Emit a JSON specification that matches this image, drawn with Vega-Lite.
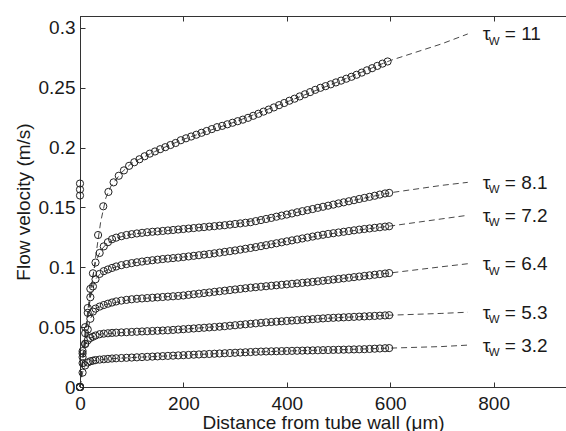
{
  "$schema": "https://vega.github.io/schema/vega-lite/v6.json",
  "width": 486,
  "height": 371,
  "autosize": {"type": "none"},
  "padding": {"left": 80, "top": 16, "right": 0, "bottom": 44},
  "config": {
    "view": {"stroke": "#333", "strokeWidth": 1},
    "font": "Liberation Sans",
    "axis": {
      "grid": false,
      "domainColor": "#333",
      "tickColor": "#333",
      "labelColor": "#1a1a1a",
      "titleColor": "#1a1a1a",
      "labelFont": "Liberation Sans",
      "titleFont": "Liberation Sans",
      "labelFontSize": 19,
      "titleFontSize": 19,
      "titleFontWeight": "normal",
      "tickSize": -5,
      "domainWidth": 1,
      "tickWidth": 1,
      "labelFlush": false
    }
  },
  "datasets": {
    "fit": [
      {"s":"11","x":0,"v":0},{"s":"11","x":10,"v":0.04},{"s":"11","x":20,"v":0.075},{"s":"11","x":30,"v":0.108},{"s":"11","x":40,"v":0.138},{"s":"11","x":50,"v":0.158},{"s":"11","x":60,"v":0.168},{"s":"11","x":80,"v":0.179},{"s":"11","x":100,"v":0.1872},{"s":"11","x":150,"v":0.1978},{"s":"11","x":200,"v":0.207},{"s":"11","x":300,"v":0.2215},{"s":"11","x":400,"v":0.2382},{"s":"11","x":500,"v":0.2552},{"s":"11","x":600,"v":0.2728},{"s":"11","x":700,"v":0.2868},{"s":"11","x":750,"v":0.295},
      {"s":"8.1","x":0,"v":0},{"s":"8.1","x":10,"v":0.045},{"s":"8.1","x":20,"v":0.082},{"s":"8.1","x":30,"v":0.104},{"s":"8.1","x":40,"v":0.114},{"s":"8.1","x":50,"v":0.119},{"s":"8.1","x":70,"v":0.1245},{"s":"8.1","x":100,"v":0.1277},{"s":"8.1","x":150,"v":0.13},{"s":"8.1","x":200,"v":0.132},{"s":"8.1","x":300,"v":0.1362},{"s":"8.1","x":400,"v":0.1441},{"s":"8.1","x":500,"v":0.1534},{"s":"8.1","x":600,"v":0.1623},{"s":"8.1","x":700,"v":0.1685},{"s":"8.1","x":750,"v":0.171},
      {"s":"7.2","x":0,"v":0},{"s":"7.2","x":10,"v":0.045},{"s":"7.2","x":20,"v":0.075},{"s":"7.2","x":30,"v":0.09},{"s":"7.2","x":40,"v":0.095},{"s":"7.2","x":60,"v":0.0993},{"s":"7.2","x":100,"v":0.1035},{"s":"7.2","x":150,"v":0.1064},{"s":"7.2","x":200,"v":0.1086},{"s":"7.2","x":300,"v":0.1141},{"s":"7.2","x":400,"v":0.1217},{"s":"7.2","x":500,"v":0.1291},{"s":"7.2","x":600,"v":0.1345},{"s":"7.2","x":700,"v":0.1405},{"s":"7.2","x":750,"v":0.1435},
      {"s":"6.4","x":0,"v":0},{"s":"6.4","x":10,"v":0.036},{"s":"6.4","x":20,"v":0.057},{"s":"6.4","x":30,"v":0.0655},{"s":"6.4","x":50,"v":0.069},{"s":"6.4","x":100,"v":0.0733},{"s":"6.4","x":200,"v":0.0765},{"s":"6.4","x":300,"v":0.0815},{"s":"6.4","x":400,"v":0.0858},{"s":"6.4","x":500,"v":0.0903},{"s":"6.4","x":600,"v":0.0953},{"s":"6.4","x":700,"v":0.1005},{"s":"6.4","x":750,"v":0.103},
      {"s":"5.3","x":0,"v":0},{"s":"5.3","x":5,"v":0.022},{"s":"5.3","x":10,"v":0.036},{"s":"5.3","x":20,"v":0.041},{"s":"5.3","x":40,"v":0.0443},{"s":"5.3","x":100,"v":0.046},{"s":"5.3","x":200,"v":0.0483},{"s":"5.3","x":300,"v":0.0516},{"s":"5.3","x":400,"v":0.0552},{"s":"5.3","x":500,"v":0.058},{"s":"5.3","x":600,"v":0.06},{"s":"5.3","x":700,"v":0.0615},{"s":"5.3","x":750,"v":0.0625},
      {"s":"3.2","x":0,"v":0},{"s":"3.2","x":5,"v":0.012},{"s":"3.2","x":10,"v":0.018},{"s":"3.2","x":20,"v":0.0215},{"s":"3.2","x":50,"v":0.0234},{"s":"3.2","x":100,"v":0.0246},{"s":"3.2","x":200,"v":0.0266},{"s":"3.2","x":300,"v":0.0286},{"s":"3.2","x":400,"v":0.0301},{"s":"3.2","x":500,"v":0.0311},{"s":"3.2","x":600,"v":0.0325},{"s":"3.2","x":700,"v":0.0338},{"s":"3.2","x":750,"v":0.035}
    ],
    "lab": [
      {"t":"= 11","x":750,"v":0.295},
      {"t":"= 8.1","x":750,"v":0.171},
      {"t":"= 7.2","x":750,"v":0.1435},
      {"t":"= 6.4","x":750,"v":0.103},
      {"t":"= 5.3","x":750,"v":0.0625},
      {"t":"= 3.2","x":750,"v":0.035}
    ],
    "pts": [
      {"s":"11","x":0,"v":0.16},{"s":"11","x":0,"v":0.165},{"s":"11","x":0,"v":0.17},
      {"s":"11","x":35,"v":0.127},{"s":"11","x":45,"v":0.151},{"s":"11","x":55,"v":0.163},{"s":"11","x":65,"v":0.171},{"s":"11","x":75,"v":0.1765},{"s":"11","x":85,"v":0.181},{"s":"11","x":95,"v":0.1848},{"s":"11","x":105,"v":0.1878},{"s":"11","x":115,"v":0.1903},{"s":"11","x":125,"v":0.1928},{"s":"11","x":135,"v":0.195},{"s":"11","x":145,"v":0.1968},{"s":"11","x":155,"v":0.1987},{"s":"11","x":165,"v":0.2004},{"s":"11","x":175,"v":0.2022},{"s":"11","x":185,"v":0.2039},{"s":"11","x":195,"v":0.2062},{"s":"11","x":205,"v":0.2078},{"s":"11","x":215,"v":0.2093},{"s":"11","x":225,"v":0.2108},{"s":"11","x":235,"v":0.2124},{"s":"11","x":245,"v":0.2139},{"s":"11","x":255,"v":0.2155},{"s":"11","x":265,"v":0.2171},{"s":"11","x":275,"v":0.2182},{"s":"11","x":285,"v":0.2195},{"s":"11","x":295,"v":0.2208},{"s":"11","x":305,"v":0.2221},{"s":"11","x":315,"v":0.2234},{"s":"11","x":325,"v":0.2249},{"s":"11","x":335,"v":0.2266},{"s":"11","x":345,"v":0.2283},{"s":"11","x":355,"v":0.2301},{"s":"11","x":365,"v":0.2318},{"s":"11","x":375,"v":0.2336},{"s":"11","x":385,"v":0.2355},{"s":"11","x":395,"v":0.2373},{"s":"11","x":405,"v":0.2392},{"s":"11","x":415,"v":0.2409},{"s":"11","x":425,"v":0.2428},{"s":"11","x":435,"v":0.2446},{"s":"11","x":445,"v":0.2464},{"s":"11","x":455,"v":0.2483},{"s":"11","x":465,"v":0.25},{"s":"11","x":475,"v":0.2514},{"s":"11","x":485,"v":0.2529},{"s":"11","x":495,"v":0.2545},{"s":"11","x":505,"v":0.256},{"s":"11","x":515,"v":0.2576},{"s":"11","x":525,"v":0.2592},{"s":"11","x":535,"v":0.2609},{"s":"11","x":545,"v":0.2627},{"s":"11","x":555,"v":0.2646},{"s":"11","x":565,"v":0.2664},{"s":"11","x":575,"v":0.2683},{"s":"11","x":585,"v":0.2702},{"s":"11","x":595,"v":0.272},
      {"s":"8.1","x":0,"v":0},{"s":"8.1","x":5,"v":0.03},{"s":"8.1","x":10,"v":0.05},{"s":"8.1","x":15,"v":0.066},{"s":"8.1","x":20,"v":0.082},{"s":"8.1","x":25,"v":0.095},{"s":"8.1","x":30,"v":0.104},{"s":"8.1","x":38,"v":0.112},{"s":"8.1","x":46,"v":0.1175},{"s":"8.1","x":54,"v":0.121},{"s":"8.1","x":62,"v":0.1235},{"s":"8.1","x":70,"v":0.1248},{"s":"8.1","x":80,"v":0.126},{"s":"8.1","x":90,"v":0.127},{"s":"8.1","x":100,"v":0.1277},{"s":"8.1","x":110,"v":0.1283},{"s":"8.1","x":120,"v":0.1288},{"s":"8.1","x":130,"v":0.1293},{"s":"8.1","x":140,"v":0.1297},{"s":"8.1","x":150,"v":0.13},{"s":"8.1","x":160,"v":0.1304},{"s":"8.1","x":170,"v":0.1308},{"s":"8.1","x":180,"v":0.1312},{"s":"8.1","x":190,"v":0.1316},{"s":"8.1","x":200,"v":0.132},{"s":"8.1","x":210,"v":0.1324},{"s":"8.1","x":220,"v":0.1328},{"s":"8.1","x":230,"v":0.1332},{"s":"8.1","x":240,"v":0.1336},{"s":"8.1","x":250,"v":0.134},{"s":"8.1","x":260,"v":0.1344},{"s":"8.1","x":270,"v":0.1348},{"s":"8.1","x":280,"v":0.1352},{"s":"8.1","x":290,"v":0.1357},{"s":"8.1","x":300,"v":0.1362},{"s":"8.1","x":310,"v":0.1367},{"s":"8.1","x":320,"v":0.1372},{"s":"8.1","x":330,"v":0.1377},{"s":"8.1","x":340,"v":0.1386},{"s":"8.1","x":350,"v":0.1395},{"s":"8.1","x":360,"v":0.1404},{"s":"8.1","x":370,"v":0.1413},{"s":"8.1","x":380,"v":0.1423},{"s":"8.1","x":390,"v":0.1432},{"s":"8.1","x":400,"v":0.1441},{"s":"8.1","x":410,"v":0.145},{"s":"8.1","x":420,"v":0.146},{"s":"8.1","x":430,"v":0.1469},{"s":"8.1","x":440,"v":0.1478},{"s":"8.1","x":450,"v":0.1487},{"s":"8.1","x":460,"v":0.1497},{"s":"8.1","x":470,"v":0.1506},{"s":"8.1","x":480,"v":0.1515},{"s":"8.1","x":490,"v":0.1524},{"s":"8.1","x":500,"v":0.1534},{"s":"8.1","x":510,"v":0.1543},{"s":"8.1","x":520,"v":0.1552},{"s":"8.1","x":530,"v":0.1561},{"s":"8.1","x":540,"v":0.1571},{"s":"8.1","x":550,"v":0.158},{"s":"8.1","x":560,"v":0.1589},{"s":"8.1","x":570,"v":0.1598},{"s":"8.1","x":580,"v":0.1608},{"s":"8.1","x":590,"v":0.1617},{"s":"8.1","x":598,"v":0.1622},
      {"s":"7.2","x":0,"v":0},{"s":"7.2","x":5,"v":0.025},{"s":"7.2","x":10,"v":0.045},{"s":"7.2","x":15,"v":0.062},{"s":"7.2","x":20,"v":0.075},{"s":"7.2","x":25,"v":0.084},{"s":"7.2","x":30,"v":0.09},{"s":"7.2","x":38,"v":0.0945},{"s":"7.2","x":46,"v":0.0968},{"s":"7.2","x":54,"v":0.0982},{"s":"7.2","x":62,"v":0.0995},{"s":"7.2","x":70,"v":0.1007},{"s":"7.2","x":80,"v":0.1018},{"s":"7.2","x":90,"v":0.1027},{"s":"7.2","x":100,"v":0.1035},{"s":"7.2","x":110,"v":0.1042},{"s":"7.2","x":120,"v":0.1048},{"s":"7.2","x":130,"v":0.1054},{"s":"7.2","x":140,"v":0.1059},{"s":"7.2","x":150,"v":0.1064},{"s":"7.2","x":160,"v":0.1069},{"s":"7.2","x":170,"v":0.1073},{"s":"7.2","x":180,"v":0.1077},{"s":"7.2","x":190,"v":0.1081},{"s":"7.2","x":200,"v":0.1086},{"s":"7.2","x":210,"v":0.1091},{"s":"7.2","x":220,"v":0.1096},{"s":"7.2","x":230,"v":0.1101},{"s":"7.2","x":240,"v":0.1106},{"s":"7.2","x":250,"v":0.1111},{"s":"7.2","x":260,"v":0.1117},{"s":"7.2","x":270,"v":0.1123},{"s":"7.2","x":280,"v":0.1129},{"s":"7.2","x":290,"v":0.1135},{"s":"7.2","x":300,"v":0.1141},{"s":"7.2","x":310,"v":0.1148},{"s":"7.2","x":320,"v":0.1155},{"s":"7.2","x":330,"v":0.1162},{"s":"7.2","x":340,"v":0.1169},{"s":"7.2","x":350,"v":0.1177},{"s":"7.2","x":360,"v":0.1185},{"s":"7.2","x":370,"v":0.1193},{"s":"7.2","x":380,"v":0.1201},{"s":"7.2","x":390,"v":0.1209},{"s":"7.2","x":400,"v":0.1217},{"s":"7.2","x":410,"v":0.1225},{"s":"7.2","x":420,"v":0.1233},{"s":"7.2","x":430,"v":0.1241},{"s":"7.2","x":440,"v":0.1249},{"s":"7.2","x":450,"v":0.1257},{"s":"7.2","x":460,"v":0.1265},{"s":"7.2","x":470,"v":0.1272},{"s":"7.2","x":480,"v":0.1279},{"s":"7.2","x":490,"v":0.1285},{"s":"7.2","x":500,"v":0.1291},{"s":"7.2","x":510,"v":0.1297},{"s":"7.2","x":520,"v":0.1303},{"s":"7.2","x":530,"v":0.1309},{"s":"7.2","x":540,"v":0.1315},{"s":"7.2","x":550,"v":0.132},{"s":"7.2","x":560,"v":0.1325},{"s":"7.2","x":570,"v":0.133},{"s":"7.2","x":580,"v":0.1335},{"s":"7.2","x":590,"v":0.134},{"s":"7.2","x":598,"v":0.1343},
      {"s":"6.4","x":0,"v":0},{"s":"6.4","x":5,"v":0.02},{"s":"6.4","x":10,"v":0.036},{"s":"6.4","x":15,"v":0.048},{"s":"6.4","x":20,"v":0.057},{"s":"6.4","x":25,"v":0.063},{"s":"6.4","x":30,"v":0.0655},{"s":"6.4","x":38,"v":0.0672},{"s":"6.4","x":46,"v":0.0685},{"s":"6.4","x":54,"v":0.0696},{"s":"6.4","x":62,"v":0.0706},{"s":"6.4","x":70,"v":0.0715},{"s":"6.4","x":80,"v":0.0722},{"s":"6.4","x":90,"v":0.0728},{"s":"6.4","x":100,"v":0.0733},{"s":"6.4","x":110,"v":0.0737},{"s":"6.4","x":120,"v":0.074},{"s":"6.4","x":130,"v":0.0743},{"s":"6.4","x":140,"v":0.0746},{"s":"6.4","x":150,"v":0.0749},{"s":"6.4","x":160,"v":0.0752},{"s":"6.4","x":170,"v":0.0755},{"s":"6.4","x":180,"v":0.0758},{"s":"6.4","x":190,"v":0.0761},{"s":"6.4","x":200,"v":0.0765},{"s":"6.4","x":210,"v":0.077},{"s":"6.4","x":220,"v":0.0775},{"s":"6.4","x":230,"v":0.078},{"s":"6.4","x":240,"v":0.0785},{"s":"6.4","x":250,"v":0.079},{"s":"6.4","x":260,"v":0.0795},{"s":"6.4","x":270,"v":0.08},{"s":"6.4","x":280,"v":0.0805},{"s":"6.4","x":290,"v":0.081},{"s":"6.4","x":300,"v":0.0815},{"s":"6.4","x":310,"v":0.082},{"s":"6.4","x":320,"v":0.0825},{"s":"6.4","x":330,"v":0.083},{"s":"6.4","x":340,"v":0.0834},{"s":"6.4","x":350,"v":0.0838},{"s":"6.4","x":360,"v":0.0842},{"s":"6.4","x":370,"v":0.0846},{"s":"6.4","x":380,"v":0.085},{"s":"6.4","x":390,"v":0.0854},{"s":"6.4","x":400,"v":0.0858},{"s":"6.4","x":410,"v":0.0862},{"s":"6.4","x":420,"v":0.0866},{"s":"6.4","x":430,"v":0.087},{"s":"6.4","x":440,"v":0.0874},{"s":"6.4","x":450,"v":0.0878},{"s":"6.4","x":460,"v":0.0883},{"s":"6.4","x":470,"v":0.0888},{"s":"6.4","x":480,"v":0.0893},{"s":"6.4","x":490,"v":0.0898},{"s":"6.4","x":500,"v":0.0903},{"s":"6.4","x":510,"v":0.0908},{"s":"6.4","x":520,"v":0.0913},{"s":"6.4","x":530,"v":0.0918},{"s":"6.4","x":540,"v":0.0923},{"s":"6.4","x":550,"v":0.0928},{"s":"6.4","x":560,"v":0.0933},{"s":"6.4","x":570,"v":0.0938},{"s":"6.4","x":580,"v":0.0943},{"s":"6.4","x":590,"v":0.0948},{"s":"6.4","x":598,"v":0.0952},
      {"s":"5.3","x":0,"v":0},{"s":"5.3","x":5,"v":0.028},{"s":"5.3","x":10,"v":0.036},{"s":"5.3","x":15,"v":0.039},{"s":"5.3","x":20,"v":0.041},{"s":"5.3","x":25,"v":0.042},{"s":"5.3","x":30,"v":0.043},{"s":"5.3","x":38,"v":0.0441},{"s":"5.3","x":46,"v":0.0446},{"s":"5.3","x":54,"v":0.0449},{"s":"5.3","x":62,"v":0.0452},{"s":"5.3","x":70,"v":0.0454},{"s":"5.3","x":80,"v":0.0456},{"s":"5.3","x":90,"v":0.0458},{"s":"5.3","x":100,"v":0.046},{"s":"5.3","x":110,"v":0.0462},{"s":"5.3","x":120,"v":0.0464},{"s":"5.3","x":130,"v":0.0466},{"s":"5.3","x":140,"v":0.0468},{"s":"5.3","x":150,"v":0.047},{"s":"5.3","x":160,"v":0.0472},{"s":"5.3","x":170,"v":0.0474},{"s":"5.3","x":180,"v":0.0477},{"s":"5.3","x":190,"v":0.048},{"s":"5.3","x":200,"v":0.0483},{"s":"5.3","x":210,"v":0.0486},{"s":"5.3","x":220,"v":0.0489},{"s":"5.3","x":230,"v":0.0492},{"s":"5.3","x":240,"v":0.0495},{"s":"5.3","x":250,"v":0.0498},{"s":"5.3","x":260,"v":0.0501},{"s":"5.3","x":270,"v":0.0504},{"s":"5.3","x":280,"v":0.0508},{"s":"5.3","x":290,"v":0.0512},{"s":"5.3","x":300,"v":0.0516},{"s":"5.3","x":310,"v":0.052},{"s":"5.3","x":320,"v":0.0524},{"s":"5.3","x":330,"v":0.0528},{"s":"5.3","x":340,"v":0.0532},{"s":"5.3","x":350,"v":0.0536},{"s":"5.3","x":360,"v":0.054},{"s":"5.3","x":370,"v":0.0543},{"s":"5.3","x":380,"v":0.0546},{"s":"5.3","x":390,"v":0.0549},{"s":"5.3","x":400,"v":0.0552},{"s":"5.3","x":410,"v":0.0555},{"s":"5.3","x":420,"v":0.0558},{"s":"5.3","x":430,"v":0.0561},{"s":"5.3","x":440,"v":0.0564},{"s":"5.3","x":450,"v":0.0567},{"s":"5.3","x":460,"v":0.057},{"s":"5.3","x":470,"v":0.0573},{"s":"5.3","x":480,"v":0.0576},{"s":"5.3","x":490,"v":0.0578},{"s":"5.3","x":500,"v":0.058},{"s":"5.3","x":510,"v":0.0582},{"s":"5.3","x":520,"v":0.0584},{"s":"5.3","x":530,"v":0.0586},{"s":"5.3","x":540,"v":0.0588},{"s":"5.3","x":550,"v":0.059},{"s":"5.3","x":560,"v":0.0592},{"s":"5.3","x":570,"v":0.0594},{"s":"5.3","x":580,"v":0.0596},{"s":"5.3","x":590,"v":0.0598},{"s":"5.3","x":598,"v":0.06},
      {"s":"3.2","x":0,"v":0},{"s":"3.2","x":5,"v":0.012},{"s":"3.2","x":10,"v":0.018},{"s":"3.2","x":15,"v":0.0205},{"s":"3.2","x":20,"v":0.0215},{"s":"3.2","x":25,"v":0.022},{"s":"3.2","x":30,"v":0.0225},{"s":"3.2","x":38,"v":0.0229},{"s":"3.2","x":46,"v":0.0232},{"s":"3.2","x":54,"v":0.0235},{"s":"3.2","x":62,"v":0.0238},{"s":"3.2","x":70,"v":0.024},{"s":"3.2","x":80,"v":0.0242},{"s":"3.2","x":90,"v":0.0244},{"s":"3.2","x":100,"v":0.0246},{"s":"3.2","x":110,"v":0.0248},{"s":"3.2","x":120,"v":0.025},{"s":"3.2","x":130,"v":0.0252},{"s":"3.2","x":140,"v":0.0254},{"s":"3.2","x":150,"v":0.0256},{"s":"3.2","x":160,"v":0.0258},{"s":"3.2","x":170,"v":0.026},{"s":"3.2","x":180,"v":0.0262},{"s":"3.2","x":190,"v":0.0264},{"s":"3.2","x":200,"v":0.0266},{"s":"3.2","x":210,"v":0.0268},{"s":"3.2","x":220,"v":0.027},{"s":"3.2","x":230,"v":0.0272},{"s":"3.2","x":240,"v":0.0274},{"s":"3.2","x":250,"v":0.0276},{"s":"3.2","x":260,"v":0.0278},{"s":"3.2","x":270,"v":0.028},{"s":"3.2","x":280,"v":0.0282},{"s":"3.2","x":290,"v":0.0284},{"s":"3.2","x":300,"v":0.0286},{"s":"3.2","x":310,"v":0.0288},{"s":"3.2","x":320,"v":0.029},{"s":"3.2","x":330,"v":0.0292},{"s":"3.2","x":340,"v":0.0294},{"s":"3.2","x":350,"v":0.0296},{"s":"3.2","x":360,"v":0.0297},{"s":"3.2","x":370,"v":0.0298},{"s":"3.2","x":380,"v":0.0299},{"s":"3.2","x":390,"v":0.03},{"s":"3.2","x":400,"v":0.0301},{"s":"3.2","x":410,"v":0.0302},{"s":"3.2","x":420,"v":0.0303},{"s":"3.2","x":430,"v":0.0304},{"s":"3.2","x":440,"v":0.0305},{"s":"3.2","x":450,"v":0.0306},{"s":"3.2","x":460,"v":0.0307},{"s":"3.2","x":470,"v":0.0308},{"s":"3.2","x":480,"v":0.0309},{"s":"3.2","x":490,"v":0.031},{"s":"3.2","x":500,"v":0.0311},{"s":"3.2","x":510,"v":0.0312},{"s":"3.2","x":520,"v":0.0313},{"s":"3.2","x":530,"v":0.0314},{"s":"3.2","x":540,"v":0.0315},{"s":"3.2","x":550,"v":0.0316},{"s":"3.2","x":560,"v":0.0318},{"s":"3.2","x":570,"v":0.032},{"s":"3.2","x":580,"v":0.0322},{"s":"3.2","x":590,"v":0.0324},{"s":"3.2","x":598,"v":0.0325}
    ]
  },
  "resolve": {"axis": {"x": "independent"}},
  "layer": [
    {
      "data": {"name": "fit"},
      "mark": {"type": "line", "strokeDash": [6, 4], "strokeWidth": 0.9, "color": "#333"},
      "encoding": {
        "x": {"field": "x", "type": "quantitative", "scale": {"domain": [0, 940], "nice": false},
          "axis": {"orient": "bottom", "values": [0, 200, 400, 600, 800], "title": "Distance from tube wall (μm)", "labelPadding": 12, "titlePadding": 0}},
        "y": {"field": "v", "type": "quantitative", "scale": {"domain": [0, 0.31], "nice": false},
          "axis": {"values": [0, 0.05, 0.1, 0.15, 0.2, 0.25, 0.3], "format": "~g", "title": "Flow velocity (m/s)", "labelPadding": 10, "titlePadding": 5}},
        "detail": {"field": "s"}
      }
    },
    {
      "data": {"name": "pts"},
      "mark": {"type": "point", "shape": "circle", "size": 52, "strokeWidth": 1, "color": "#222", "filled": false, "opacity": 1},
      "encoding": {
        "x": {"field": "x", "type": "quantitative", "axis": null},
        "y": {"field": "v", "type": "quantitative"}
      }
    },
    {
      "data": {"name": "lab"},
      "mark": {"type": "text", "text": "τ", "align": "left", "baseline": "alphabetic", "dx": 15, "dy": 6.5, "fontSize": 19, "color": "#1a1a1a"},
      "encoding": {
        "x": {"field": "x", "type": "quantitative",
          "axis": {"orient": "top", "values": [0, 200, 400, 600, 800], "labels": false, "title": null}},
        "y": {"field": "v", "type": "quantitative"}
      }
    },
    {
      "data": {"name": "lab"},
      "mark": {"type": "text", "text": "W", "align": "left", "baseline": "alphabetic", "dx": 21, "dy": 11, "fontSize": 11.5, "color": "#1a1a1a"},
      "encoding": {
        "x": {"field": "x", "type": "quantitative", "axis": null},
        "y": {"field": "v", "type": "quantitative"}
      }
    },
    {
      "data": {"name": "lab"},
      "mark": {"type": "text", "align": "left", "baseline": "alphabetic", "dx": 37, "dy": 6.5, "fontSize": 19, "color": "#1a1a1a"},
      "encoding": {
        "x": {"field": "x", "type": "quantitative", "axis": null},
        "y": {"field": "v", "type": "quantitative"},
        "text": {"field": "t"}
      }
    }
  ]
}
